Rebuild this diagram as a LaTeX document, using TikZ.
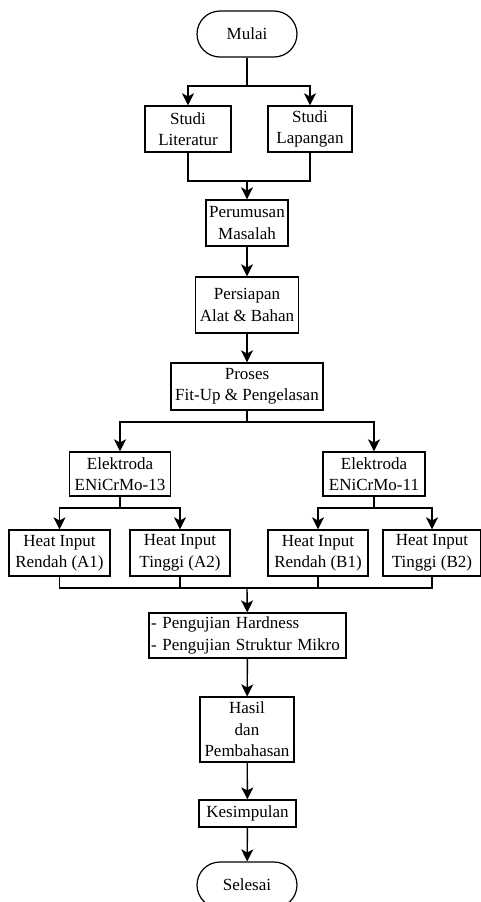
\documentclass[tikz,border=0pt]{standalone}
\usepackage{fontspec}
\setmainfont{Liberation Serif}
\usepackage{tikz}
\usetikzlibrary{positioning, arrows.meta, shapes.misc}

\begin{document}
\begin{tikzpicture}[
    x=1pt, y=-1pt,
    line width=1.4pt,
    every node/.style={font=\fontsize{17}{21.5}\selectfont, inner sep=1pt},
    box/.style={draw, rectangle, align=center, line width=1.2pt},
    terminal/.style={draw, rounded rectangle, line width=1.2pt, minimum width=102pt, minimum height=46pt},
    arr/.style={-{Stealth[length=12pt, width=12pt, inset=3pt]}}
]

\useasboundingbox (0,0) rectangle (481,902);

% --- 1. Start and literature ---
\node[terminal] (mulai) at (247,34) {Mulai};

\node[box, minimum width=86pt, minimum height=46pt] (lit) at (188,129) {Studi\\Literatur};
\node[box, minimum width=84pt, minimum height=46pt] (lap) at (310,129) {Studi\\Lapangan};

\node[box, minimum width=82pt, minimum height=46pt] (rumus) at (247,223) {Perumusan\\Masalah};
\node[box, minimum width=103pt, minimum height=56pt] (siap) at (247,305) {Persiapan\\Alat \& Bahan};
\node[box, minimum width=152pt, minimum height=47pt] (proses) at (247,386.5) {Proses\\Fit-Up \& Pengelasan};

% --- 2. Electrodes and heat input ---
\node[box, minimum width=101pt, minimum height=44pt] (elk13) at (120,474) {Elektroda\\ENiCrMo-13};
\node[box, minimum width=102pt, minimum height=44pt] (elk11) at (374,474) {Elektroda\\ENiCrMo-11};

\foreach \n/\x/\w/\lbl in {
    a1/59.5/101/Rendah (A1),
    a2/180/100/Tinggi (A2),
    b1/318/100/Rendah (B1),
    b2/432/98/Tinggi (B2)
}{
    \node[box, minimum width=\w, minimum height=46pt] (\n) at (\x,553) {Heat Input\\\lbl};
}

% --- 3. Testing and closing ---
\node[box, minimum width=197pt, minimum height=45pt, text width=193pt, align=left] (uji) at (247.5,635.5)
    {- Pengujian Hardness\\- Pengujian Struktur Mikro};
\node[box, minimum width=94pt, minimum height=65pt] (hasil) at (247,729.5) {Hasil\\dan\\Pembahasan};
\node[box, minimum width=97pt, minimum height=27pt] (simpul) at (247.5,813.5) {Kesimpulan};
\node[terminal] (selesai) at (247,885) {Selesai};

% --- 4. Junctions ---
\coordinate (s1) at (247,86);
\coordinate (j1) at (247,181);
\coordinate (s2) at (247,422);
\coordinate (s3) at (120,508);
\coordinate (s4) at (374,508);
\coordinate (j2) at (247,588);

% --- 5. Connectors ---
\draw (mulai) -- (s1);
\draw[arr] (s1) -| (lit);
\draw[arr] (s1) -| (lap);

\draw (lit) |- (j1);
\draw (lap) |- (j1);
\draw[arr] (j1) -- (rumus);

\draw[arr] (rumus) -- (siap);
\draw[arr] (siap) -- (proses);

\draw (proses) -- (s2);
\draw[arr] (s2) -| (elk13);
\draw[arr] (s2) -| (elk11);

\draw (elk13) -- (s3);
\draw[arr] (s3) -| (a1);
\draw[arr] (s3) -| (a2);
\draw (elk11) -- (s4);
\draw[arr] (s4) -| (b1);
\draw[arr] (s4) -| (b2);

\foreach \n in {a1, a2, b1, b2}{
    \draw (\n) |- (j2);
}
\draw[arr] (j2) -- (uji);

\draw[arr] (uji) -- (hasil);
\draw[arr] (hasil) -- (simpul);
\draw[arr] (simpul) -- (selesai);

\end{tikzpicture}
\end{document}
